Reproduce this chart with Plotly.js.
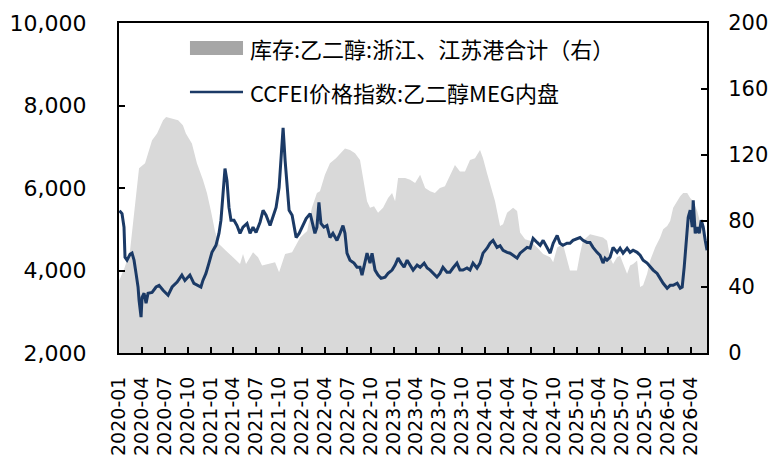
<!DOCTYPE html>
<html>
<head>
<meta charset="utf-8">
<script src="https://cdn.plot.ly/plotly-3.0.1.min.js"></script>
<style>html,body{margin:0;padding:0;background:#fff;}#chart{width:775px;height:467px;}</style>
</head>
<body>
<div id="chart"></div>
<script>
// ---- Data ----
var invName = '库存:乙二醇:浙江、江苏港合计（右）';
var priceName = 'CCFEI价格指数:乙二醇MEG内盘';

var invDates = ['2020-01-02','2020-01-24','2020-02-14','2020-03-05','2020-03-21','2020-04-14','2020-05-12','2020-06-01','2020-06-25','2020-07-07','2020-07-31','2020-08-24','2020-09-12','2020-09-24','2020-10-18','2020-11-07','2020-12-01','2020-12-17',
'2021-01-02','2021-01-18','2021-02-03','2021-02-15','2021-03-03','2021-03-31','2021-04-28','2021-05-10','2021-05-22','2021-06-19','2021-07-09','2021-07-25','2021-08-18','2021-09-15','2021-10-01','2021-10-25','2021-11-22','2021-12-24',
'2022-01-21','2022-02-09','2022-03-01','2022-03-13','2022-04-02','2022-04-22','2022-05-16','2022-06-21','2022-07-11','2022-07-31','2022-08-20','2022-09-01','2022-09-17','2022-09-29','2022-10-15','2022-10-31','2022-11-20','2022-12-10','2022-12-26',
'2023-01-07','2023-01-19','2023-02-16','2023-03-08','2023-03-28','2023-04-17','2023-05-07','2023-05-27','2023-06-15','2023-07-05','2023-07-25','2023-08-14','2023-09-03','2023-09-23','2023-10-13','2023-11-02','2023-11-22','2023-12-12','2023-12-24',
'2024-01-09','2024-01-21','2024-02-10','2024-03-01','2024-03-13','2024-03-29','2024-04-22','2024-05-08','2024-05-20','2024-06-09','2024-06-29','2024-07-27','2024-08-20','2024-09-17','2024-09-29','2024-10-15','2024-11-07','2024-12-05',
'2025-01-02','2025-01-14','2025-01-26','2025-02-23','2025-03-23','2025-04-16','2025-05-02','2025-05-14','2025-05-26','2025-06-11','2025-06-23','2025-07-21','2025-08-02','2025-08-14','2025-08-30','2025-09-11','2025-09-23','2025-10-09','2025-10-21','2025-11-10','2025-11-30','2025-12-12','2025-12-28',
'2026-01-09','2026-01-21','2026-02-06','2026-02-18','2026-03-02','2026-03-18','2026-03-30','2026-04-11','2026-04-27','2026-05-09','2026-05-21','2026-06-05'];
var invValues = [44,52,62,92,112,115,129,133,141,143,142,141,138,133,127,115,105,97,
86,74,66,64,62,58,54,60,54,61,58,53,54,55,49,60,61,70,
74,88,97,98,108,115,118,124,123,121,117,106,92,88,89,85,88,94,97,
92,106,106,105,103,108,100,98,97,100,101,108,114,110,110,117,118,123,118,
109,103,92,77,78,85,88,86,73,69,68,64,60,58,55,64,66,50,
50,60,68,72,71,70,68,58,54,58,59,48,53,54,56,40,41,48,56,64,70,75,77,
80,88,92,95,97,97,94,92,86,78,72,68];

var priceDates = ['2020-01-03','2020-01-13','2020-01-21','2020-01-25','2020-02-02','2020-02-14','2020-02-22','2020-03-01','2020-03-09','2020-03-17','2020-03-21','2020-03-29','2020-04-02','2020-04-10','2020-04-18','2020-04-26','2020-05-12','2020-05-28','2020-06-09','2020-06-25','2020-07-15','2020-07-31','2020-08-20','2020-09-08','2020-09-20','2020-10-10','2020-10-26','2020-11-11','2020-11-23','2020-12-01','2020-12-13','2020-12-25',
'2021-01-06','2021-01-22','2021-02-03','2021-02-11','2021-02-19','2021-02-27','2021-03-07','2021-03-15','2021-03-23','2021-04-04','2021-04-16','2021-04-28','2021-05-10','2021-05-26','2021-06-07','2021-06-19','2021-07-01','2021-07-17','2021-07-29','2021-08-10','2021-08-26','2021-09-07','2021-09-19','2021-10-01','2021-10-09','2021-10-17','2021-10-25','2021-11-02','2021-11-10','2021-11-22','2021-11-30','2021-12-08','2021-12-20',
'2022-01-01','2022-01-17','2022-02-02','2022-02-13','2022-02-21','2022-03-01','2022-03-09','2022-03-17','2022-03-29','2022-04-10','2022-04-22','2022-05-04','2022-05-20','2022-06-01','2022-06-13','2022-06-21','2022-06-29','2022-07-11','2022-07-27','2022-08-08','2022-08-20','2022-08-28','2022-09-09','2022-09-17','2022-09-29','2022-10-07','2022-10-19','2022-10-31','2022-11-12','2022-11-28','2022-12-10','2022-12-26',
'2023-01-07','2023-01-19','2023-01-31','2023-02-12','2023-02-24','2023-03-08','2023-03-20','2023-04-05','2023-04-17','2023-05-03','2023-05-15','2023-05-27','2023-06-07','2023-06-23','2023-07-05','2023-07-17','2023-08-02','2023-08-14','2023-08-26','2023-09-11','2023-09-23','2023-10-05','2023-10-21','2023-11-02','2023-11-14','2023-11-30','2023-12-12','2023-12-24',
'2024-01-09','2024-01-21','2024-02-02','2024-02-18','2024-03-01','2024-03-13','2024-03-29','2024-04-10','2024-04-22','2024-05-08','2024-05-20','2024-06-01','2024-06-17','2024-06-29','2024-07-11','2024-07-27','2024-08-08','2024-08-20','2024-09-05','2024-09-17','2024-09-29','2024-10-15','2024-10-26','2024-11-07','2024-11-23','2024-12-05','2024-12-17',
'2025-01-02','2025-01-14','2025-01-26','2025-02-11','2025-02-23','2025-03-07','2025-03-23','2025-04-04','2025-04-16','2025-04-24','2025-05-02','2025-05-14','2025-05-26','2025-06-11','2025-06-23','2025-07-05','2025-07-21','2025-08-02','2025-08-14','2025-08-30','2025-09-11','2025-09-23','2025-10-09','2025-10-21','2025-11-02','2025-11-18','2025-11-30','2025-12-12','2025-12-28',
'2026-01-09','2026-01-21','2026-02-06','2026-02-18','2026-02-26','2026-03-06','2026-03-14','2026-03-22','2026-03-30','2026-04-07','2026-04-11','2026-04-19','2026-04-27','2026-05-05','2026-05-13','2026-05-21','2026-05-29','2026-06-05'];
var priceValues = [5450,5380,5050,4320,4250,4390,4420,4250,3930,3600,3280,2870,3350,3450,3210,3450,3470,3600,3640,3520,3400,3600,3720,3890,3760,3890,3690,3640,3600,3760,3930,4180,
4440,4610,4900,5220,5940,6470,6180,5530,5220,5220,5090,4900,5050,5140,4900,5050,4920,5170,5460,5340,5090,5340,5530,6010,6670,7460,6670,6010,5460,5340,5050,4800,4900,
5050,5260,5380,5140,4900,5050,5650,5140,5050,5090,4800,4900,4730,4900,5090,4900,4420,4250,4180,4080,4080,3890,4180,4420,4180,4420,4010,3890,3810,3840,3930,4010,
4130,4300,4180,4080,4250,4130,4010,4130,4080,4180,4060,4010,3930,3840,3930,4080,3960,3960,4060,4180,4010,4010,4060,4010,4180,4060,4180,4420,
4540,4660,4730,4560,4600,4490,4440,4420,4370,4300,4420,4490,4560,4540,4780,4680,4610,4730,4560,4420,4660,4850,4660,4610,4660,4660,4730,
4780,4800,4730,4680,4680,4560,4440,4370,4180,4300,4250,4320,4560,4440,4540,4420,4540,4440,4490,4440,4370,4250,4180,4080,4010,3930,3810,3690,3570,
3640,3640,3690,3570,3600,4080,4730,5290,5460,5050,5700,4900,5050,4900,5220,5050,4730,4490];

var xTickLabels = ['2020-01','2020-04','2020-07','2020-10','2021-01','2021-04','2021-07','2021-10','2022-01','2022-04','2022-07','2022-10','2023-01','2023-04','2023-07','2023-10','2024-01','2024-04','2024-07','2024-10','2025-01','2025-04','2025-07','2025-10','2026-01','2026-04'];
var leftTicks = [2000,4000,6000,8000,10000];
var rightTicks = [0,40,80,120,160,200];

// ---- Styles ----
var navy = '#1b3a66';
var areaGray = '#d9d9d9';
var legendGray = '#a6a6a6';
var leftFont = {family:'DejaVu Sans, Arial, sans-serif', size:22, color:'#000'};
var rightFont = {family:'DejaVu Sans, Arial, sans-serif', size:21, color:'#000'};

var traces = [
  {x: invDates, y: invValues, name: invName, type:'scatter', mode:'lines',
   line:{width:0, color:'rgba(0,0,0,0)', shape:'linear'}, fill:'tozeroy', fillcolor: areaGray,
   yaxis:'y', hoverinfo:'skip'},
  {x: priceDates, y: priceValues, name: priceName, type:'scatter', mode:'lines',
   line:{width:3, color: navy}, yaxis:'y2'}
];

var axCommon = {showgrid:false, zeroline:false, showline:true, linecolor:'#000', linewidth:2,
  ticks:'inside', ticklen:6, tickwidth:2, tickcolor:'#000'};

var layout = {
  width:775, height:467,
  margin:{l:119, r:68, t:23, b:114, pad:0},
  paper_bgcolor:'#fff', plot_bgcolor:'#fff',
  showlegend:false,
  xaxis: Object.assign({}, axCommon, {
    type:'date', range:['2020-01-01','2026-06-05'],
    tickvals: xTickLabels.map(function(s){return s + '-01';}),
    ticktext: xTickLabels, tickangle:-90, mirror:true,
    tickfont:{family:'DejaVu Sans, Arial, sans-serif', size:19, color:'#000'},
    ticklabelstandoff: 14
  }),
  yaxis: Object.assign({}, axCommon, {
    side:'right', range:[0,200], tickvals: rightTicks, tickfont: rightFont, ticklabelstandoff: 15
  }),
  yaxis2: Object.assign({}, axCommon, {
    side:'left', overlaying:'y', range:[2000,10000], tickvals: leftTicks, tickformat:',d',
    tickfont: leftFont, ticklabelstandoff: 26
  }),
  shapes: [
    {type:'rect', xref:'paper', yref:'paper', x0:0.1207, x1:0.2109, y0:0.903, y1:0.9455,
     fillcolor: legendGray, line:{width:0}},
    {type:'line', xref:'paper', yref:'paper', x0:0.1207, x1:0.2109, y0:0.7909, y1:0.7909,
     line:{color: navy, width:2.6}}
  ],
  annotations: [
    {xref:'paper', yref:'paper', x:0.2194, y:0.9242, xanchor:'left', yanchor:'middle', showarrow:false,
     text: invName, font:{family:'Noto Sans CJK SC, sans-serif', size:22, color:'#000'}},
    {xref:'paper', yref:'paper', x:0.2194, y:0.7909, xanchor:'left', yanchor:'middle', showarrow:false,
     text: priceName, font:{family:'Noto Sans CJK SC, sans-serif', size:22, color:'#000'}}
  ]
};

Plotly.newPlot('chart', traces, layout, {displayModeBar:false, staticPlot:true});
</script>
</body>
</html>
